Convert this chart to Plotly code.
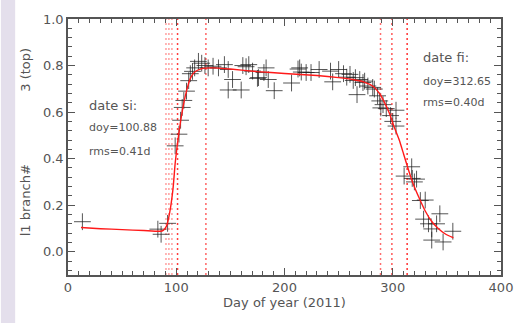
import plotly.graph_objects as go

# Observations (day of year, value)
obs_doy = [13.3, 83, 86, 92, 99, 102.5, 104, 105.5, 107, 109.5, 111.5, 113, 115,
           117, 120.5, 123.5, 126.5, 129.5, 134, 139, 144.5, 148, 152, 148, 160,
           161.5, 164.5, 167, 170.5, 175, 176, 181, 183, 185, 190.5, 206.5, 212.5,
           214, 215.5, 220, 224.5, 232, 242.5, 244.5, 250, 254.5, 257.5, 260.5,
           263.5, 265.5, 267, 269.5, 272.5, 274, 277, 281.5, 283, 286, 288, 289,
           291, 294, 298, 300, 303, 303, 310.5, 317.5, 318, 322, 320, 325.5, 330,
           328.5, 333, 336, 340.5, 343.5, 336, 346.5, 355.5]
obs_val = [0.129, 0.097, 0.075, 0.122, 0.455, 0.505, 0.565, 0.62, 0.65, 0.69, 0.735, 0.765, 0.775,
           0.79, 0.818, 0.81, 0.80, 0.79, 0.797, 0.79, 0.804, 0.783, 0.74, 0.695, 0.695,
           0.80, 0.795, 0.804, 0.776, 0.745, 0.748, 0.77, 0.79, 0.74, 0.692, 0.725, 0.785,
           0.79, 0.772, 0.77, 0.77, 0.783, 0.776, 0.73, 0.783, 0.765, 0.75, 0.762,
           0.736, 0.748, 0.675, 0.74, 0.727, 0.733, 0.712, 0.706, 0.699, 0.67, 0.648, 0.618,
           0.632, 0.615, 0.585, 0.56, 0.54, 0.608, 0.325, 0.365, 0.315, 0.312, 0.30, 0.22, 0.222,
           0.14, 0.12, 0.098, 0.12, 0.163, 0.05, 0.042, 0.088]

# Fitted curve
curve_doy = [12, 30, 50, 70, 85, 88, 91, 94, 97, 99, 101, 104, 107, 110, 113, 117, 123,
             133, 150, 175, 200, 230, 250, 263, 273, 282, 288, 292, 297, 301, 306, 310,
             315, 319, 324, 330, 336, 342, 349, 356]
curve_val = [0.104, 0.099, 0.095, 0.091, 0.088, 0.092, 0.11, 0.17, 0.27, 0.38, 0.46, 0.56,
             0.64, 0.70, 0.745, 0.772, 0.786, 0.790, 0.785, 0.774, 0.766, 0.757, 0.748,
             0.740, 0.730, 0.71, 0.678, 0.645, 0.594, 0.54, 0.48, 0.42, 0.345, 0.29, 0.235,
             0.175, 0.13, 0.10, 0.075, 0.06]

# Vertical dotted marker lines (day of year) and their colours
mark_doy = [90.5, 93.2, 96.0, 101.2, 127.4, 288.7, 299.2, 313.3]
mark_col = ["rgb(255,160,160)", "rgb(255,160,160)", "rgb(255,160,160)", "rgb(255,60,60)",
            "rgb(255,100,100)", "rgb(255,110,110)", "rgb(255,90,90)", "rgb(255,50,50)"]

x_ticks = [0, 100, 200, 300, 400]
y_ticks = [0.0, 0.2, 0.4, 0.6, 0.8, 1.0]

FONT = "DejaVu Sans"
TXT = "#555555"
AX = "#555555"

fig = go.Figure()

for d, c in zip(mark_doy, mark_col):
    fig.add_shape(type="line", xref="x", yref="paper", x0=d, x1=d, y0=0, y1=1,
                  line=dict(color=c, width=1.5, dash="2px,3px"), layer="below")

fig.add_trace(go.Scatter(
    x=obs_doy, y=obs_val, mode="markers",
    marker=dict(symbol="cross-thin", size=12,
                line=dict(color="rgba(30,30,30,0.75)", width=1)),
    showlegend=False))

fig.add_trace(go.Scatter(
    x=curve_doy, y=curve_val, mode="lines",
    line=dict(color="rgb(255,25,25)", width=1.4, shape="spline", smoothing=0.5),
    showlegend=False))

axis_common = dict(showline=True, linecolor=AX, linewidth=1.5, mirror="ticks",
                   ticks="inside", ticklen=7, tickcolor=AX, tickwidth=1,
                   showgrid=False, zeroline=False,
                   tickfont=dict(family=FONT, size=13, color=TXT))

fig.update_xaxes(range=[0, 400], tickvals=x_ticks,
                 minor=dict(dtick=10, ticklen=4, ticks="inside", tickcolor=AX),
                 title=dict(text="Day of year (2011)", font=dict(family=FONT, size=13, color=TXT),
                            standoff=4),
                 **axis_common)
fig.update_yaxes(range=[-0.1, 1.0], tickvals=y_ticks, tickformat=".1f",
                 minor=dict(dtick=0.04, tick0=0, ticklen=4, ticks="inside", tickcolor=AX),
                 **axis_common)

# y axis title pieces
fig.add_annotation(text="l1 branch#", xref="paper", yref="paper", x=-0.098, y=0.29,
                   showarrow=False, textangle=-90, xanchor="center", yanchor="middle",
                   font=dict(family=FONT, size=13, color=TXT))
fig.add_annotation(text="3 (top)", xref="paper", yref="paper", x=-0.098, y=0.80,
                   showarrow=False, textangle=-90, xanchor="center", yanchor="middle",
                   font=dict(family=FONT, size=13, color=TXT))

# text labels
labels = [("date si:", 0.045, 0.662, 13), ("doy=100.88", 0.045, 0.575, 11), ("rms=0.41d", 0.045, 0.482, 11),
          ("date fi:", 0.816, 0.85, 13), ("doy=312.65", 0.816, 0.757, 11), ("rms=0.40d", 0.816, 0.673, 11)]
for t, xx, yy, fs in labels:
    fig.add_annotation(text=t, xref="paper", yref="paper", x=xx, y=yy, showarrow=False,
                       xanchor="left", yanchor="middle", font=dict(family=FONT, size=fs, color=TXT))

# left lavender strip
fig.add_shape(type="rect", xref="paper", yref="paper", x0=-0.155, x1=-0.122, y0=-0.2, y1=1.1,
              fillcolor="#e4dfec", line=dict(width=0), layer="below")

fig.update_layout(width=525, height=323, margin=dict(l=68, r=13, t=12, b=48),
                  paper_bgcolor="white", plot_bgcolor="white")

fig.write_html("out.html")
